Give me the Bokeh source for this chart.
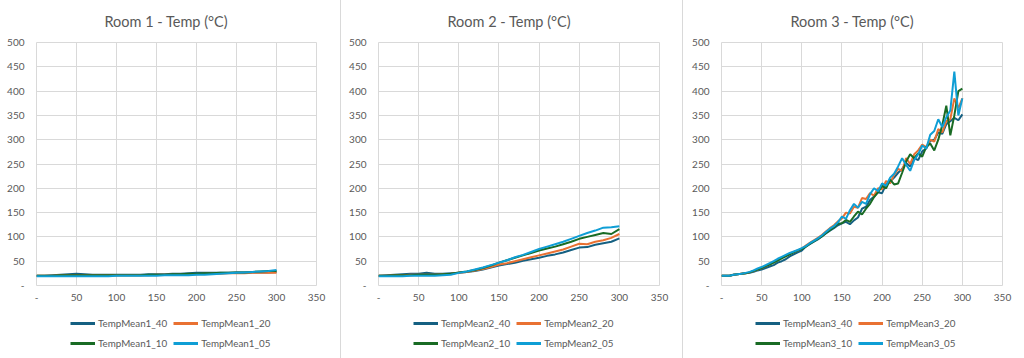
from bokeh.plotting import figure
from bokeh.models import Range1d, FixedTicker, Legend, LegendItem, Div
from bokeh.layouts import row, column
from bokeh.embed import file_html
from bokeh.resources import INLINE

# ---------------- data ----------------
time_10 = list(range(0, 301, 10))
time_5 = list(range(0, 301, 5))

room1_40 = [20, 20, 21, 22, 23, 24, 23, 22, 22, 22, 22, 22, 22, 22, 23, 23, 23, 24, 24, 25, 26, 26, 26, 26, 26, 27, 27, 27, 27, 27, 28]
room1_20 = [20, 20, 20, 21, 21, 21, 21, 21, 21, 21, 21, 21, 21, 21, 21, 22, 22, 22, 22, 23, 23, 24, 24, 24, 25, 25, 25, 26, 26, 26, 26]
room1_10 = [20, 20, 20, 21, 21, 21, 21, 21, 21, 21, 21, 21, 21, 21, 22, 22, 22, 23, 23, 24, 24, 25, 25, 26, 26, 27, 27, 28, 29, 30, 30]
room1_05 = [19, 19, 19, 19, 19, 19, 19, 19, 19, 19, 20, 20, 20, 20, 20, 20, 21, 21, 21, 21, 22, 22, 23, 24, 25, 26, 27, 28, 29, 30, 32]

room2_40 = [20, 21, 22, 23, 24, 24, 26, 24, 24, 25, 26, 28, 30, 33, 37, 41, 44, 47, 51, 54, 57, 61, 64, 68, 73, 78, 79, 84, 87, 90, 97]
room2_20 = [20, 20, 21, 21, 22, 22, 22, 22, 23, 24, 26, 28, 31, 34, 38, 43, 46, 50, 54, 58, 62, 66, 70, 74, 80, 86, 85, 90, 93, 98, 106]
room2_10 = [20, 20, 21, 21, 21, 22, 22, 22, 23, 24, 27, 29, 32, 36, 41, 47, 52, 57, 62, 67, 72, 76, 80, 85, 90, 96, 100, 104, 108, 106, 116]
room2_05 = [19, 19, 19, 19, 20, 20, 20, 20, 21, 22, 26, 29, 33, 37, 42, 47, 52, 58, 63, 69, 75, 80, 85, 90, 96, 102, 108, 113, 119, 120, 122]

room3_40 = [20, 20, 20, 22, 23, 24, 25, 26, 28, 31, 33, 36, 39, 42, 47, 50, 54, 60, 64, 68, 72,
            80, 85, 90, 95, 101, 107, 113, 118, 124, 128, 131, 126, 134, 140, 158, 162, 176, 183, 192, 190,
            208, 214, 222, 232, 240, 252, 245, 262, 258, 276, 282, 298, 300, 315, 312, 332, 338, 345, 340, 352]
room3_20 = [20, 20, 20, 22, 23, 24, 25, 27, 30, 33, 36, 40, 44, 48, 53, 57, 61, 65, 69, 72, 76,
            82, 88, 93, 98, 104, 111, 118, 124, 132, 138, 150, 148, 162, 160, 180, 178, 190, 185, 200, 198,
            215, 210, 228, 240, 236, 262, 250, 270, 278, 290, 285, 300, 296, 322, 315, 338, 342, 385, 365, 385]
room3_10 = [20, 20, 20, 22, 23, 24, 25, 27, 30, 33, 36, 40, 43, 47, 51, 56, 60, 64, 68, 72, 75,
            80, 86, 91, 96, 101, 108, 114, 120, 127, 128, 135, 131, 142, 152, 146, 158, 168, 182, 192, 205,
            200, 218, 208, 210, 232, 255, 270, 262, 272, 265, 285, 292, 278, 300, 330, 370, 309, 350, 400, 405]
room3_05 = [20, 20, 20, 22, 23, 24, 26, 28, 31, 35, 38, 42, 46, 50, 55, 59, 63, 67, 70, 73, 77,
            81, 87, 92, 97, 103, 110, 117, 122, 130, 142, 137, 155, 168, 160, 172, 168, 188, 200, 194, 210,
            205, 222, 230, 245, 262, 248, 236, 258, 270, 288, 282, 310, 318, 342, 326, 346, 360, 440, 350, 385]

suffixes = ["40", "20", "10", "05"]
colors = ["#156082", "#E97132", "#196B24", "#0F9ED5"]
x_ticks = [0, 50, 100, 150, 200, 250, 300, 350]
y_ticks = [0, 50, 100, 150, 200, 250, 300, 350, 400, 450, 500]
titles = ["Room 1 - Temp (\u00b0C)", "Room 2 - Temp (\u00b0C)", "Room 3 - Temp (\u00b0C)"]

rooms = [
    (time_10, [room1_40, room1_20, room1_10, room1_05]),
    (time_10, [room2_40, room2_20, room2_10, room2_05]),
    (time_5, [room3_40, room3_20, room3_10, room3_05]),
]

FONT = "Lato"
GREY_TXT = "#595959"
GRID = "#D9D9D9"
H_MAIN = 306
H_LEG = 52
# (width, min_border_left, min_border_right, title offset, legend x)
geom = [(340, 36, 24, 68, 34), (341, 37, 23, 69, 35), (341, 38, 22, 69, 34)]


def make_panel(idx):
    t, series = rooms[idx]
    w, bl, br, toff, lx = geom[idx]
    p = figure(width=w, height=H_MAIN, output_backend="svg", toolbar_location=None,
               x_range=Range1d(0, 350), y_range=Range1d(0, 500),
               min_border_left=bl, min_border_right=br,
               min_border_top=42, min_border_bottom=21,
               background_fill_color="white", border_fill_color="white")
    p.title.text = titles[idx]
    p.title.align = "left"
    p.title.vertical_align = "top"
    p.title.text_font = FONT
    p.title.text_font_size = "14.5px"
    p.title.text_font_style = "normal"
    p.title.text_color = GREY_TXT
    p.title.standoff = 22
    p.title.offset = toff

    for ax in (p.xaxis[0], p.yaxis[0]):
        ax.axis_line_color = None
        ax.major_tick_line_color = None
        ax.minor_tick_line_color = None
        ax.major_tick_out = 0
        ax.major_tick_in = 0
        ax.minor_tick_out = 0
        ax.major_label_text_font = FONT
        ax.major_label_text_font_size = "10px"
        ax.major_label_text_color = GREY_TXT
        ax.major_label_overrides = {0: "-"}
    p.xaxis.ticker = FixedTicker(ticks=x_ticks)
    p.yaxis.ticker = FixedTicker(ticks=y_ticks)
    p.xaxis.major_label_standoff = 8
    p.yaxis.major_label_standoff = 12

    p.xgrid.grid_line_color = GRID
    p.ygrid.grid_line_color = GRID
    p.outline_line_color = GRID

    for vals, c in zip(series, colors):
        p.line(t, vals, line_color=c, line_width=2)

    # legend strip below the chart (a separate canvas so it is not clipped);
    # its lines use the same series but fall outside its visible range
    lg = figure(width=w, height=H_LEG, output_backend="svg", toolbar_location=None,
                x_range=Range1d(-2, -1), y_range=Range1d(0, 1),
                x_axis_location=None, y_axis_location=None, min_border=0,
                background_fill_color="white", border_fill_color="white")
    lg.outline_line_color = None
    lg.grid.grid_line_color = None
    items = []
    for s, vals, c in zip(suffixes, series, colors):
        r = lg.line(t, vals, line_color=c, line_width=3)
        items.append(LegendItem(label=f"TempMean{idx + 1}_{s}", renderers=[r]))
    for pair, ly in ((items[:2], 27), (items[2:], 7)):
        legend = Legend(items=pair, location=(lx, ly), orientation="horizontal",
                        padding=0, margin=0, spacing=6, glyph_width=25, glyph_height=16,
                        label_height=16, label_standoff=3, label_text_font=FONT,
                        label_text_font_size="9.8px", label_text_color=GREY_TXT,
                        border_line_color=None, background_fill_alpha=0)
        lg.add_layout(legend)
    return column(p, lg, spacing=0)


def divider():
    return Div(text="", width=1, height=H_MAIN + H_LEG, margin=0,
               styles={"background-color": GRID})


layout = row(make_panel(0), divider(), make_panel(1), divider(), make_panel(2), spacing=0)

open("out.html", "w").write(file_html(layout, INLINE))
